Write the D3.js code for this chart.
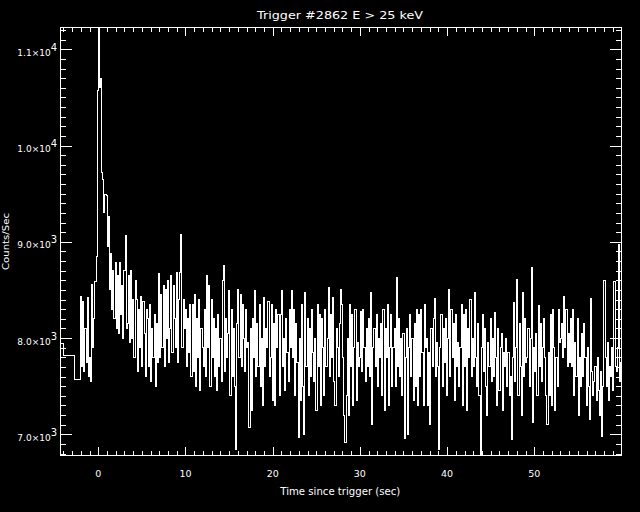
<!DOCTYPE html>
<html><head><meta charset="utf-8">
<script src="https://cdn.jsdelivr.net/npm/d3@7"></script>
<style>html,body{margin:0;padding:0;background:#000;} svg{display:block;}</style>
</head><body>
<script>
const title = "Trigger #2862 E > 25 keV";
const xLabel = "Time since trigger (sec)";
const yLabel = "Counts/Sec";
const xMajorTicks = [0, 10, 20, 30, 40, 50];
const xTickLabels = ["0", "10", "20", "30", "40", "50"];
const yMajorTicks = [7000, 8000, 9000, 10000, 11000];
const yTickMantissa = ["7.0", "8.0", "9.0", "1.0", "1.1"];
const yTickExponent = ["3", "3", "3", "4", "4"];
// pre-trigger coarse bins (edges in s) and rates
const preEdges = [-4.45, -4.0, -2.75, -2.048];
const preCounts = [7945, 7824, 7573];
// fine-resolution bins after -2.048 s
const fineStart = -2.048, fineBin = 0.128;
const counts = [
8430,7700,8380,7650,8100,7750,8420,7600,7800,7550,
8560,7900,8200,8590,8850,10570,11232,10600,10700,9720,
9650,9300,9490,9480,8950,9260,8500,8880,8300,8700,
8200,8780,8100,8650,8050,8780,8250,8550,8000,8700,
9070,8100,8150,8650,7950,8700,8000,8400,7800,8600,
8400,7650,8300,7900,8430,7700,8380,8050,7600,8300,
8200,7700,8350,7550,8100,7800,8250,7500,8150,7750,
8670,7800,8450,7900,8550,7700,8500,8000,8600,7750,
8100,8650,7850,8550,8200,7900,8680,7750,8400,8680,
9080,7900,8400,8100,8300,7700,8200,7850,8350,7600,
8350,7650,8450,7500,8200,7800,8400,7450,8100,7900,
7700,8300,7600,8650,7900,8550,7500,8400,7800,8200,
7600,8100,7450,8250,7700,8000,7550,8600,8750,7650,
8200,7800,8050,8490,7400,8300,7600,8100,7500,6840,
8150,8500,7800,8450,7700,8350,8000,7650,8300,7900,
7950,7070,8100,7250,8200,7800,8490,7600,8150,7700,
8350,7500,8000,7300,8420,7700,8100,7900,8380,7600,
7800,8350,7350,8150,7300,8300,7900,8250,7400,8250,
8490,7700,8000,7450,8200,7850,7550,8300,7900,8490,
7800,8300,7400,8150,7750,6970,8000,7350,8350,7500,
7000,8470,7700,8200,7400,8100,7600,8300,7850,7550,
8000,7250,8350,7700,8250,7300,8200,7900,7400,8300,
7700,8000,8530,7600,8250,7800,8420,7550,7300,8100,
7900,7600,8150,8500,8350,7800,7200,6910,7400,8000,
7200,8350,7700,8250,7300,7900,8300,7350,7950,7700,
7800,8280,7650,8300,7900,7550,8100,7700,8200,7600,
8470,7100,7900,8100,7700,8250,7500,8000,7800,8150,
7400,8300,7250,8100,7800,8350,7300,7900,8250,7500,
7900,8100,7500,8630,7700,8200,7600,8000,7400,8050,
6960,7800,8100,7000,7900,8250,7600,8000,7350,8150,
7500,8300,7300,8250,7600,8300,7850,7300,8350,7900,
8000,7300,7850,7100,8100,7700,8200,8410,7600,7950,
7700,6840,7900,8250,7500,8100,7750,8200,7400,8000,
8500,7600,8300,7800,8150,7350,8250,7700,7950,7500,
7900,8350,7300,8250,7700,8300,7250,8100,7800,8400,
7600,8000,7700,8470,7800,7500,8150,7400,6785,7900,
8250,7650,8100,7500,7200,7950,7700,8200,7550,8000,
7600,8270,7800,7300,8100,7450,7900,8050,7250,7850,
7700,8000,7500,7850,7400,7600,6950,7800,8370,7550,
7900,8610,7400,8150,7700,7200,8470,7600,8200,7750,
7800,8100,7500,8000,8735,7120,7900,7650,8050,7400,
8340,7700,8150,7550,7900,8200,7800,7400,7100,7850,
7400,8250,7300,8300,7900,7250,7800,7500,8300,7950,
8000,8150,7800,8430,7900,8300,7700,8050,7750,8200,
7700,8300,7400,7950,7600,8200,7200,7800,7500,8050,
7600,8150,7800,7300,7900,7500,7150,8410,7650,7400,
7550,7700,7350,7800,7450,7200,7650,6980,7500,8600,
7800,7500,7950,7350,7700,7600,7900,7450,8590,7700,
7650,7900,8970,7550,7750,7600
];

const W = 640, H = 512;
const L = 60, R = 622, T = 27, B = 455;
const x = d3.scaleLinear().domain([-4.39, 60.06]).range([L, R]);
const y = d3.scaleLinear().domain([6785, 11232]).range([B, T]);

const svg = d3.select("body").append("svg").attr("width", W).attr("height", H)
  .style("background", "#000");
svg.append("rect").attr("width", W).attr("height", H).attr("fill", "#000");

const font = "'DejaVu Sans', sans-serif";

// data
const pts = [];
preCounts.forEach((v, i) => pts.push([preEdges[i], v]));
counts.forEach((v, i) => pts.push([fineStart + i * fineBin, v]));
pts.push([fineStart + counts.length * fineBin, counts[counts.length - 1]]);

svg.append("clipPath").attr("id", "clip").append("rect")
  .attr("x", L).attr("y", T).attr("width", R - L).attr("height", B - T);

const line = d3.line().x(d => x(d[0])).y(d => y(d[1])).curve(d3.curveStepAfter);
svg.append("path").datum(pts).attr("d", line)
  .attr("fill", "none").attr("stroke", "#fff").attr("stroke-width", 1)
  .attr("shape-rendering", "crispEdges").attr("clip-path", "url(#clip)");

// frame
svg.append("rect").attr("x", L + 0.5).attr("y", T + 0.5).attr("width", R - L - 1).attr("height", B - T)
  .attr("fill", "none").attr("stroke", "#fff").attr("stroke-width", 1).attr("shape-rendering", "crispEdges");

// ticks
const xMinor = d3.range(-4, 61, 1).filter(v => !xMajorTicks.includes(v));
const yMinor = d3.range(6800, 11201, 100).filter(v => !yMajorTicks.includes(v));

function drawAxis(axis, tr) {
  const g = svg.append("g").attr("transform", tr).call(axis);
  g.select(".domain").remove();
  g.selectAll("line").attr("stroke", "#fff").attr("shape-rendering", "crispEdges");
  g.selectAll("text").remove();
}
drawAxis(d3.axisBottom(x).tickValues(xMinor).tickSize(-4.5), `translate(0,${B})`);
drawAxis(d3.axisBottom(x).tickValues(xMajorTicks).tickSize(-8.5), `translate(0,${B})`);
drawAxis(d3.axisTop(x).tickValues(xMinor).tickSize(-4.5), `translate(0,${T})`);
drawAxis(d3.axisTop(x).tickValues(xMajorTicks).tickSize(-8.5), `translate(0,${T})`);
drawAxis(d3.axisLeft(y).tickValues(yMinor).tickSize(-6), `translate(${L},0)`);
drawAxis(d3.axisLeft(y).tickValues(yMajorTicks).tickSize(-12), `translate(${L},0)`);
drawAxis(d3.axisRight(y).tickValues(yMinor).tickSize(-6), `translate(${R},0)`);
drawAxis(d3.axisRight(y).tickValues(yMajorTicks).tickSize(-12), `translate(${R},0)`);

// x tick labels
svg.append("g").selectAll("text").data(xMajorTicks).join("text")
  .attr("x", d => x(d)).attr("y", 477).attr("text-anchor", "middle")
  .attr("fill", "#fff").attr("font-family", font).attr("font-size", 9.5)
  .text((d, i) => xTickLabels[i]);

// y tick labels
const yl = svg.append("g").selectAll("text").data(yMajorTicks).join("text")
  .attr("x", 57).attr("y", d => y(d) + 6.5).attr("text-anchor", "end")
  .attr("fill", "#fff").attr("font-family", font).attr("font-size", 9);
yl.append("tspan").text((d, i) => yTickMantissa[i] + "\u00d710");
yl.append("tspan").attr("dy", -5).attr("font-size", 10).text((d, i) => yTickExponent[i]);

// title
svg.append("text").attr("x", 340).attr("y", 19).attr("text-anchor", "middle")
  .attr("fill", "#fff").attr("font-family", font).attr("font-size", 11)
  .attr("textLength", 166).attr("lengthAdjust", "spacingAndGlyphs").text(title);

// x label
svg.append("text").attr("x", 340.3).attr("y", 495).attr("text-anchor", "middle")
  .attr("fill", "#fff").attr("font-family", font).attr("font-size", 10)
  .attr("textLength", 120).attr("lengthAdjust", "spacingAndGlyphs").text(xLabel);

// y label
svg.append("text").attr("transform", "translate(9,241.5) rotate(-90)").attr("text-anchor", "middle")
  .attr("fill", "#fff").attr("font-family", font).attr("font-size", 9.5)
  .attr("textLength", 57).attr("lengthAdjust", "spacingAndGlyphs").text(yLabel);
</script>
</body></html>
